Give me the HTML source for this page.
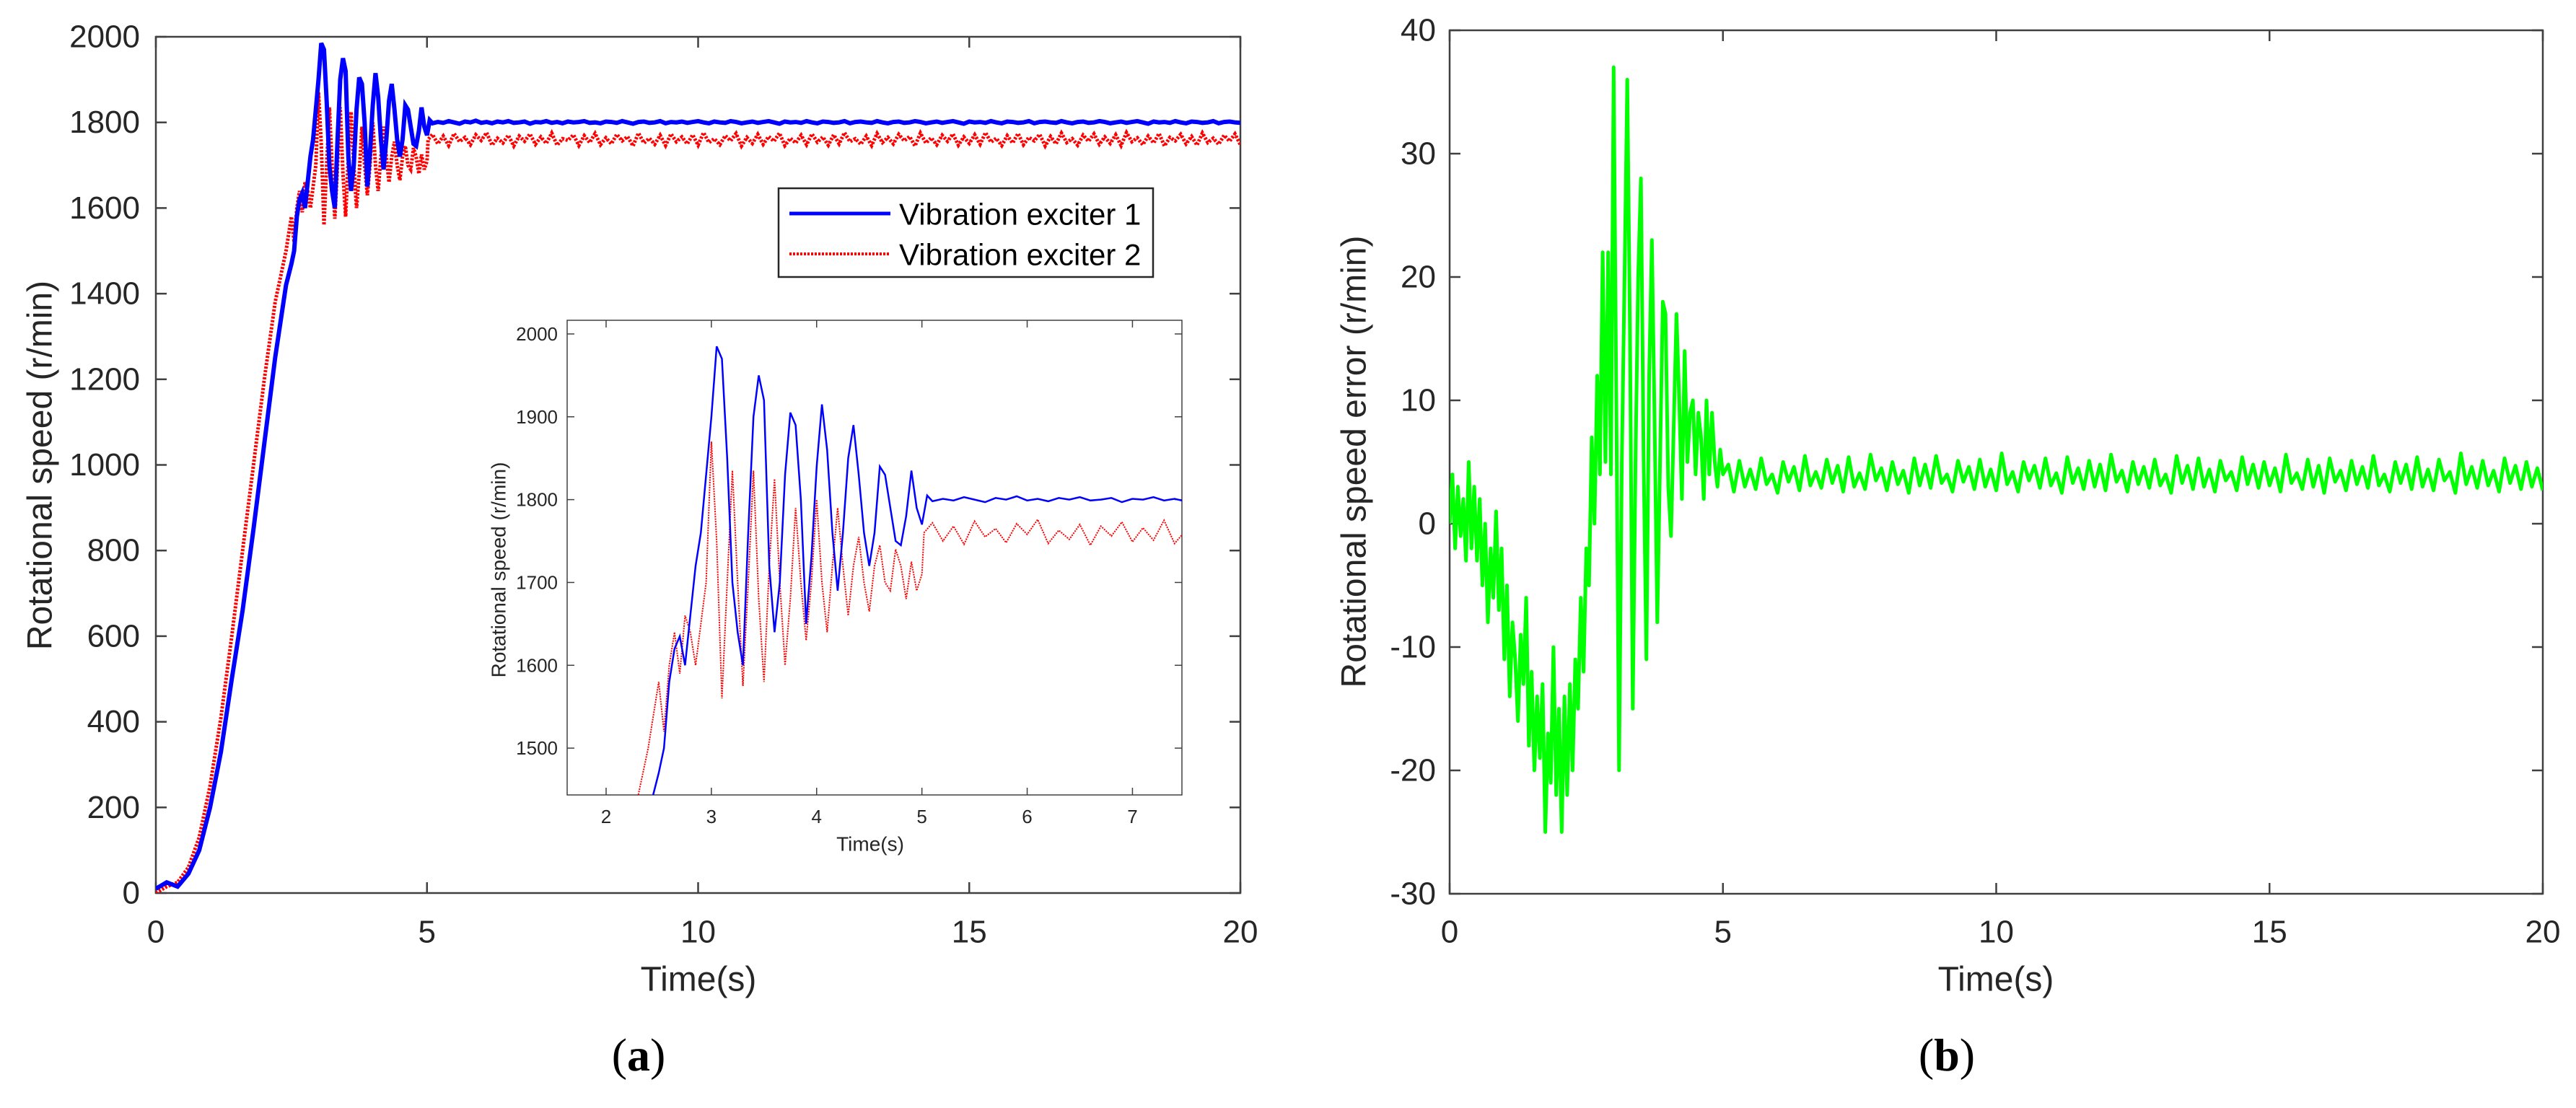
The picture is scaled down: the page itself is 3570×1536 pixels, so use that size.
<!DOCTYPE html>
<html><head><meta charset="utf-8"><style>
html,body{margin:0;padding:0;background:#fff;width:3570px;height:1536px;overflow:hidden;}
svg{display:block;font-family:"Liberation Sans",sans-serif;}
</style></head><body>
<svg id="fig" width="3570" height="1536" viewBox="0 0 3570 1536" xmlns="http://www.w3.org/2000/svg">
<defs>
<clipPath id="clipA"><rect x="216" y="51" width="1503" height="1187"/></clipPath>
<clipPath id="clipI"><rect x="786" y="444" width="852" height="658"/></clipPath>
<clipPath id="clipB"><rect x="2009" y="42" width="1515" height="1197"/></clipPath>
</defs>
<g id="plotA"></g>
<g id="plotB"></g>
</svg>
<script>
// ---- data: exciter 1 (blue) transient ----
const tBlue = [0,0.2,0.4,0.6,0.8,1.0,1.2,1.4,1.6,1.8,2.0,2.2,2.4,2.5,2.55,2.6,2.65,2.7,2.75,2.8,2.85,2.9,2.95,3.0,3.05,3.1,3.15,3.2,3.25,3.3,3.35,3.4,3.45,3.5,3.55,3.6,3.65,3.7,3.75,3.8,3.85,3.9,3.95,4.0,4.05,4.1,4.15,4.2,4.25,4.3,4.35,4.4,4.45,4.5,4.55,4.6,4.65,4.7,4.75,4.8,4.85,4.9,4.95,5.0,5.05];
const vBlue = [10,25,15,45,100,200,330,500,660,850,1050,1250,1420,1470,1500,1580,1620,1635,1600,1660,1720,1760,1830,1900,1985,1970,1850,1700,1640,1600,1760,1900,1950,1920,1720,1640,1700,1830,1905,1890,1800,1650,1730,1840,1915,1860,1760,1690,1760,1850,1890,1830,1760,1720,1760,1840,1830,1790,1750,1745,1780,1835,1790,1770,1805];
// ---- data: exciter 2 (red) transient ----
const tRed = [0,0.2,0.4,0.6,0.8,1.0,1.2,1.4,1.6,1.8,2.0,2.2,2.4,2.45,2.5,2.55,2.6,2.65,2.7,2.75,2.8,2.85,2.9,2.95,3.0,3.05,3.1,3.15,3.2,3.25,3.3,3.35,3.4,3.45,3.5,3.55,3.6,3.65,3.7,3.75,3.8,3.85,3.9,3.95,4.0,4.05,4.1,4.15,4.2,4.25,4.3,4.35,4.4,4.45,4.5,4.55,4.6,4.65,4.7,4.75,4.8,4.85,4.9,4.95,5.0,5.02];
const vRed = [0,15,25,60,130,250,410,600,800,1000,1200,1380,1500,1540,1580,1520,1600,1640,1590,1660,1640,1600,1650,1700,1870,1750,1560,1700,1835,1700,1575,1700,1835,1680,1580,1720,1825,1700,1600,1680,1790,1700,1630,1700,1800,1700,1640,1720,1790,1720,1660,1720,1755,1700,1665,1720,1745,1700,1690,1740,1720,1680,1725,1690,1710,1760];
// ---- steady state, 5.1 s .. 20 s, 0.1 s step ----
const steadyStart = 5.1, steadyStep = 0.1;
const vBlueSteady = [1798,1801,1799,1803,1800,1797,1802,1800,1804,1799,1801,1798,1802,1800,1803,1799,1800,1802,1797,1801,1800,1803,1799,1801,1798,1802,1800,1801,1803,1799,1800,1798,1802,1801,1799,1803,1800,1797,1801,1802,1799,1800,1803,1798,1801,1800,1802,1799,1801,1803,1800,1798,1802,1800,1799,1803,1801,1798,1800,1802,1799,1801,1803,1800,1797,1802,1800,1801,1799,1803,1800,1798,1802,1801,1799,1800,1803,1798,1801,1802,1800,1799,1803,1800,1798,1801,1802,1799,1800,1803,1801,1798,1800,1802,1799,1801,1803,1800,1797,1802,1800,1801,1799,1803,1800,1798,1802,1801,1799,1800,1803,1798,1801,1802,1800,1799,1803,1800,1798,1801,1802,1799,1800,1803,1801,1798,1800,1802,1799,1801,1803,1800,1797,1802,1800,1801,1799,1803,1800,1798,1802,1801,1799,1800,1803,1798,1801,1802,1800,1799];
const vRedSteady = [1772,1750,1768,1746,1774,1755,1765,1748,1771,1758,1776,1747,1763,1752,1770,1745,1768,1756,1773,1749,1766,1751,1775,1747,1762,1758,1771,1746,1769,1753,1774,1748,1764,1750,1772,1757,1767,1745,1775,1752,1763,1749,1770,1746,1773,1755,1766,1750,1771,1747,1776,1753,1762,1748,1769,1757,1774,1745,1765,1751,1772,1749,1767,1756,1775,1746,1763,1752,1770,1748,1773,1754,1766,1747,1771,1750,1776,1755,1762,1749,1768,1746,1774,1753,1765,1750,1772,1757,1767,1745,1775,1752,1764,1748,1770,1756,1773,1747,1766,1751,1771,1749,1776,1754,1763,1746,1769,1752,1774,1748,1765,1757,1772,1745,1767,1750,1775,1753,1762,1747,1770,1756,1773,1749,1766,1751,1771,1746,1776,1755,1764,1748,1768,1752,1774,1745,1765,1757,1772,1750,1767,1747,1775,1753,1763,1749,1770,1756,1773,1748];
// ---- data: speed error (green) ----
const tErr = [0,0.05,0.1,0.15,0.2,0.25,0.3,0.35,0.4,0.45,0.5,0.55,0.6,0.65,0.7,0.75,0.8,0.85,0.9,0.95,1.0,1.05,1.1,1.15,1.2,1.25,1.3,1.35,1.4,1.45,1.5,1.55,1.6,1.65,1.7,1.75,1.8,1.85,1.9,1.95,2.0,2.05,2.1,2.15,2.2,2.25,2.3,2.35,2.4,2.45,2.5,2.55,2.6,2.65,2.7,2.75,2.8,2.85,2.9,2.95,3.0,3.05,3.1,3.15,3.2,3.25,3.3,3.35,3.4,3.45,3.5,3.55,3.6,3.65,3.7,3.75,3.8,3.85,3.9,3.95,4.0,4.05,4.1,4.15,4.2,4.25,4.3,4.35,4.4,4.45,4.5,4.55,4.6,4.65,4.7,4.75,4.8,4.85,4.9,4.95,5.0];
const vErr = [0,4,-2,3,-1,2,-3,5,-2,3,-3,2,-5,0,-8,-2,-6,1,-7,-2,-11,-5,-14,-8,-11,-16,-9,-13,-6,-18,-12,-20,-14,-19,-13,-25,-17,-21,-10,-22,-15,-25,-14,-22,-13,-20,-11,-15,-6,-12,-2,-5,7,0,12,4,22,5,22,4,37,10,-20,5,20,36,15,-15,5,20,28,5,-11,12,23,8,-8,5,18,17,3,-1,8,17,10,2,14,5,9,10,4,9,7,2,10,4,9,5,3,6,4];
const vErrSteady = [4.8,2.6,5.1,3.0,4.4,2.8,5.3,3.2,4.0,2.5,5.0,3.4,4.6,2.7,5.5,3.1,4.2,2.9,5.2,3.3,4.7,2.6,5.4,3.0,4.1,2.8,5.6,3.5,4.5,2.7,5.0,3.2,4.3,2.5,5.3,3.1,4.8,2.9,5.5,3.3,4.0,2.6,5.1,3.4,4.6,2.8,5.2,3.0,4.4,2.7,5.7,3.2,4.2,2.6,5.0,3.5,4.7,2.9,5.3,3.1,4.1,2.5,5.4,3.3,4.5,2.8,5.1,3.0,4.8,2.7,5.6,3.4,4.3,2.6,5.0,3.2,4.6,2.9,5.2,3.1,4.0,2.5,5.5,3.3,4.7,2.8,5.3,3.0,4.4,2.6,5.1,3.5,4.2,2.7,5.4,3.2,4.8,2.9,5.0,3.1,4.5,2.6,5.6,3.3,4.1,2.8,5.2,3.0,4.7,2.5,5.3,3.4,4.3,2.7,5.1,3.2,4.6,2.9,5.5,3.1,4.0,2.6,5.0,3.3,4.8,2.8,5.4,3.0,4.4,2.7,5.2,3.5,4.2,2.5,5.7,3.2,4.6,2.9,5.1,3.1,4.3,2.6,5.3,3.3,4.7,2.8,5.0,3.0,4.5,2.7];
// ---- axis ticks ----
const xTicksMain = [0,5,10,15,20];
const yTicksA = [0,200,400,600,800,1000,1200,1400,1600,1800,2000];
const yTicksB = [-30,-20,-10,0,10,20,30,40];
const xTicksInset = [2,3,4,5,6,7];
const yTicksInset = [1500,1600,1700,1800,1900,2000];

const NS = "http://www.w3.org/2000/svg";
function mk(parent, tag, attrs, text){
  const e = document.createElementNS(NS, tag);
  for (const k in attrs) e.setAttribute(k, attrs[k]);
  if (text !== undefined) e.textContent = text;
  parent.appendChild(e);
  return e;
}
function scale(d0,d1,r0,r1){ return v => r0 + (v-d0)/(d1-d0)*(r1-r0); }
function series(tArr, vArr, vSteady){
  const pts = tArr.map((t,i)=>[t, vArr[i]]);
  if (vSteady) vSteady.forEach((v,i)=>pts.push([steadyStart + i*steadyStep, v]));
  return pts;
}
function pathD(pts, sx, sy){ return pts.map((p,i)=>(i?"L":"M")+sx(p[0]).toFixed(1)+","+sy(p[1]).toFixed(1)).join(""); }

function drawAxes(g, box, sx, sy, xt, yt, fs, tickLen, xLabY, yLabX, namePrefix){
  const frame = mk(g, "rect", {x:box.x, y:box.y, width:box.w, height:box.h, fill:"#fff", stroke:"#404040", "stroke-width":box.sw});
  
  
  xt.forEach(v=>{
    const x = sx(v);
    const t1 = mk(g,"line",{x1:x,y1:box.y+box.h,x2:x,y2:box.y+box.h-tickLen,stroke:"#404040","stroke-width":box.sw});
    
    
    const t2 = mk(g,"line",{x1:x,y1:box.y,x2:x,y2:box.y+tickLen,stroke:"#404040","stroke-width":box.sw});
    
    
    const lb = mk(g,"text",{x:x,y:xLabY,"font-size":fs,"text-anchor":"middle",fill:"#262626","dominant-baseline":"central"}, String(v));
    
    
  });
  yt.forEach(v=>{
    const y = sy(v);
    const t1 = mk(g,"line",{x1:box.x,y1:y,x2:box.x+tickLen,y2:y,stroke:"#404040","stroke-width":box.sw});
    
    
    const t2 = mk(g,"line",{x1:box.x+box.w,y1:y,x2:box.x+box.w-tickLen,y2:y,stroke:"#404040","stroke-width":box.sw});
    
    
    const lb = mk(g,"text",{x:yLabX,y:y,"font-size":fs,"text-anchor":"end",fill:"#262626","dominant-baseline":"central"}, String(v));
    
    
  });
}

// ================= Plot (a) =================
const gA = document.getElementById("plotA");
const boxA = {x:216, y:51, w:1503, h:1187, sw:2.5};
const sxA = scale(0,20,216,1719), syA = scale(0,2000,1238,51);
drawAxes(gA, boxA, sxA, syA, xTicksMain, yTicksA, 44, 15, 1292, 194, "plot-a");
const blueSeries = series(tBlue, vBlue, vBlueSteady);
const redSeries = series(tRed, vRed, vRedSteady);
const redA = mk(gA,"path",{d:pathD(redSeries,sxA,syA),fill:"none",stroke:"#ff0000","stroke-width":5,"stroke-dasharray":"3,2","clip-path":"url(#clipA)"});


const blueA = mk(gA,"path",{d:pathD(blueSeries,sxA,syA),fill:"none",stroke:"#0000ff","stroke-width":6,"clip-path":"url(#clipA)"});


const ylabA = mk(gA,"text",{x:0,y:0,"font-size":48,"text-anchor":"middle",fill:"#262626",transform:"translate(56,645) rotate(-90)","dominant-baseline":"central"},"Rotational speed (r/min)");


const xlabA = mk(gA,"text",{x:968,y:1358,"font-size":48,"text-anchor":"middle",fill:"#262626","dominant-baseline":"central"},"Time(s)");


const capA = mk(gA,"text",{x:885,y:1462,"font-size":64,"text-anchor":"middle",fill:"#000","font-family":"Liberation Serif, serif","dominant-baseline":"central"});


capA.innerHTML = '(<tspan font-weight="bold">a</tspan>)';

// legend
const leg = mk(gA,"g",{});


mk(leg,"rect",{x:1079,y:261,width:519,height:123,fill:"#fff",stroke:"#262626","stroke-width":2.5});
const le1 = mk(leg,"line",{x1:1094,y1:296,x2:1234,y2:296,stroke:"#0000ff","stroke-width":5});


const lt1 = mk(leg,"text",{x:1246,y:297,"font-size":42,fill:"#000","dominant-baseline":"central"},"Vibration exciter 1");


const le2 = mk(leg,"line",{x1:1094,y1:352,x2:1234,y2:352,stroke:"#ff0000","stroke-width":4,"stroke-dasharray":"3,2"});


const lt2 = mk(leg,"text",{x:1246,y:353,"font-size":42,fill:"#000","dominant-baseline":"central"},"Vibration exciter 2");



// inset
const gI = mk(gA,"g",{});


const boxI = {x:786, y:444, w:852, h:658, sw:1.5};
const sxI = scale(1.63,7.47,786,1638), syI = scale(1443.5,2016.5,1102,444);
drawAxes(gI, boxI, sxI, syI, xTicksInset, yTicksInset, 26, 10, 1132, 773, "inset");
const redI = mk(gI,"path",{d:pathD(redSeries,sxI,syI),fill:"none",stroke:"#ff0000","stroke-width":2,"stroke-dasharray":"2,1.5","clip-path":"url(#clipI)"});


const blueI = mk(gI,"path",{d:pathD(blueSeries,sxI,syI),fill:"none",stroke:"#0000ff","stroke-width":2.5,"clip-path":"url(#clipI)"});


const ylabI = mk(gI,"text",{x:0,y:0,"font-size":28,"text-anchor":"middle",fill:"#262626",transform:"translate(691,790) rotate(-90)","dominant-baseline":"central"},"Rotational speed (r/min)");


const xlabI = mk(gI,"text",{x:1206,y:1170,"font-size":28,"text-anchor":"middle",fill:"#262626","dominant-baseline":"central"},"Time(s)");



// ================= Plot (b) =================
const gB = document.getElementById("plotB");
const boxB = {x:2009, y:42, w:1515, h:1197, sw:2.5};
const sxB = scale(0,20,2009,3524), syB = scale(-30,40,1239,42);
drawAxes(gB, boxB, sxB, syB, xTicksMain, yTicksB, 44, 15, 1292, 1990, "plot-b");
const errSeries = series(tErr, vErr, vErrSteady);
const grn = mk(gB,"path",{d:pathD(errSeries,sxB,syB),fill:"none",stroke:"#00ff00","stroke-width":5,"stroke-linejoin":"round","clip-path":"url(#clipB)"});


const ylabB = mk(gB,"text",{x:0,y:0,"font-size":48,"text-anchor":"middle",fill:"#262626",transform:"translate(1877,640) rotate(-90)","dominant-baseline":"central"},"Rotational speed error (r/min)");


const xlabB = mk(gB,"text",{x:2766,y:1358,"font-size":48,"text-anchor":"middle",fill:"#262626","dominant-baseline":"central"},"Time(s)");


const capB = mk(gB,"text",{x:2698,y:1462,"font-size":64,"text-anchor":"middle",fill:"#000","font-family":"Liberation Serif, serif","dominant-baseline":"central"});


capB.innerHTML = '(<tspan font-weight="bold">b</tspan>)';
</script>
</body></html>
